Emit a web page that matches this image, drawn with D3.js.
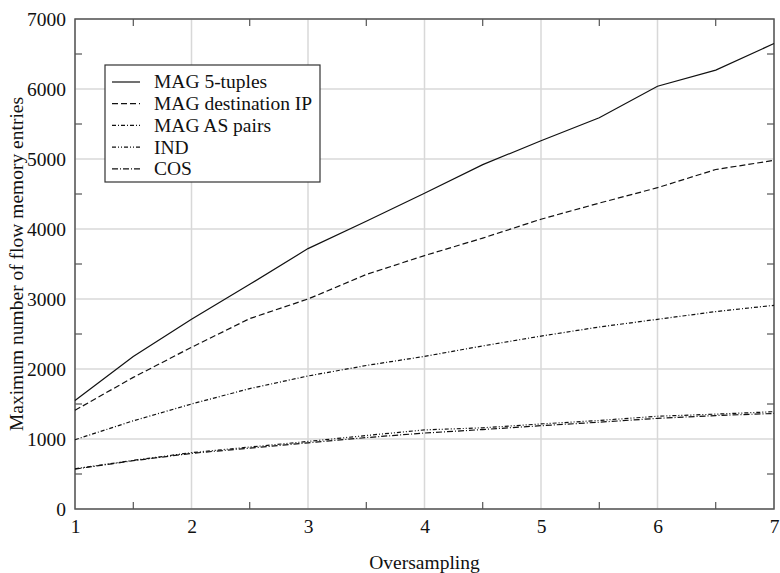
<!DOCTYPE html>
<meta charset="utf-8">
<script src="https://d3js.org/d3.v7.min.js"></script>
<style>
body { margin: 0; background: #fff; }
text { font-family: "Liberation Serif", "Times New Roman", serif; fill: #111; }
</style>
<body>
<div id="canvas"></div>
<script>
// oversampling values (x)
var oversampling = [1, 1.5, 2, 2.5, 3, 3.5, 4, 4.5, 5, 5.5, 6, 6.5, 7];

// series
var mag5tuples = [1550, 2180, 2710, 3210, 3720, 4110, 4510, 4920, 5260, 5590, 6040, 6270, 6650];
var magDestIP  = [1410, 1880, 2310, 2720, 3000, 3350, 3620, 3870, 4140, 4370, 4590, 4850, 4980];
var magASpairs = [990, 1260, 1500, 1720, 1900, 2050, 2180, 2330, 2470, 2600, 2710, 2820, 2910];
var ind        = [575, 695, 805, 885, 965, 1050, 1130, 1160, 1215, 1265, 1325, 1355, 1390];
var cos        = [570, 690, 795, 870, 945, 1020, 1085, 1135, 1190, 1240, 1295, 1335, 1365];

var seriesNames = ["MAG 5-tuples", "MAG destination IP", "MAG AS pairs", "IND", "COS"];
var seriesValues = [mag5tuples, magDestIP, magASpairs, ind, cos];
var dashes = ["none", "6,3", "4,2,1,2", "4,2,1,2,1,2", "6,2,1,2"];

var xTicks = [1, 2, 3, 4, 5, 6, 7];
var xMinor = [1.5, 2.5, 3.5, 4.5, 5.5, 6.5];
var yTicks = [0, 1000, 2000, 3000, 4000, 5000, 6000, 7000];
var yMinor = [500, 1500, 2500, 3500, 4500, 5500, 6500];

var width = 780, height = 573;
var margin = {top: 19, right: 6, bottom: 64, left: 75};
var w = width - margin.left - margin.right;
var h = height - margin.top - margin.bottom;
var fs = "19.5px";

var svg = d3.select("#canvas").append("svg")
    .attr("width", width)
    .attr("height", height);

var g = svg.append("g")
    .attr("transform", "translate(" + margin.left + "," + margin.top + ")");

var x = d3.scaleLinear().domain([1, 7]).range([0, w]);
var y = d3.scaleLinear().domain([0, 7000]).range([h, 0]);

// grid lines
g.selectAll(".gx").data(xTicks).enter().append("line")
    .attr("x1", d => x(d)).attr("x2", d => x(d))
    .attr("y1", 0).attr("y2", h)
    .attr("stroke", "#d8d8d8").attr("stroke-width", 1.5);
g.selectAll(".gy").data(yTicks).enter().append("line")
    .attr("y1", d => y(d)).attr("y2", d => y(d))
    .attr("x1", 0).attr("x2", w)
    .attr("stroke", "#d8d8d8").attr("stroke-width", 1.5);

// minor ticks, pointing inward on all four sides
var tk = 7;
xMinor.forEach(function(v) {
    g.append("line").attr("x1", x(v)).attr("x2", x(v)).attr("y1", h).attr("y2", h - tk).attr("stroke", "#333");
    g.append("line").attr("x1", x(v)).attr("x2", x(v)).attr("y1", 0).attr("y2", tk).attr("stroke", "#333");
});
yMinor.forEach(function(v) {
    g.append("line").attr("y1", y(v)).attr("y2", y(v)).attr("x1", 0).attr("x2", tk).attr("stroke", "#333");
    g.append("line").attr("y1", y(v)).attr("y2", y(v)).attr("x1", w).attr("x2", w - tk).attr("stroke", "#333");
});

// frame
g.append("rect")
    .attr("width", w).attr("height", h)
    .attr("fill", "none").attr("stroke", "#555").attr("stroke-width", 1.5);

// tick labels via d3 axes, with the axis lines hidden
var xAxis = g.append("g")
    .attr("transform", "translate(0," + h + ")")
    .call(d3.axisBottom(x).tickValues(xTicks).tickFormat(d3.format("d")).tickSize(0).tickPadding(10));
var yAxis = g.append("g")
    .call(d3.axisLeft(y).tickValues(yTicks).tickFormat(d3.format("d")).tickSize(0).tickPadding(9));
[xAxis, yAxis].forEach(function(a) {
    a.select(".domain").remove();
    a.selectAll("text").style("font-family", "'Liberation Serif', serif").style("font-size", fs).attr("fill", "#111");
});

// lines
var line = d3.line()
    .x(function(d, i) { return x(oversampling[i]); })
    .y(function(d) { return y(d); });

seriesValues.forEach(function(vals, i) {
    g.append("path")
        .datum(vals)
        .attr("d", line)
        .attr("fill", "none")
        .attr("stroke", "#111")
        .attr("stroke-width", 1.2)
        .attr("stroke-dasharray", dashes[i]);
});

// legend
var lg = svg.append("g").attr("transform", "translate(105,65)");
lg.append("rect")
    .attr("width", 215).attr("height", 117)
    .attr("fill", "#fff").attr("stroke", "#333").attr("stroke-width", 1.2);
var items = lg.selectAll(".item").data(seriesNames).enter().append("g")
    .attr("transform", function(d, i) { return "translate(0," + (17 + i * 21.7) + ")"; });
items.append("line")
    .attr("x1", 7).attr("x2", 35).attr("y1", 0).attr("y2", 0)
    .attr("stroke", "#111").attr("stroke-width", 1.2)
    .attr("stroke-dasharray", function(d, i) { return dashes[i]; });
items.append("text")
    .attr("x", 49).attr("y", 0).attr("dy", "0.33em")
    .style("font-size", fs)
    .text(function(d) { return d; });

// axis titles
svg.append("text")
    .attr("x", margin.left + w / 2).attr("y", 569)
    .attr("text-anchor", "middle")
    .style("font-size", fs)
    .text("Oversampling");
svg.append("text")
    .attr("transform", "translate(23," + (margin.top + h / 2) + ") rotate(-90)")
    .attr("text-anchor", "middle")
    .style("font-size", fs)
    .text("Maximum number of flow memory entries");
</script>
</body>
